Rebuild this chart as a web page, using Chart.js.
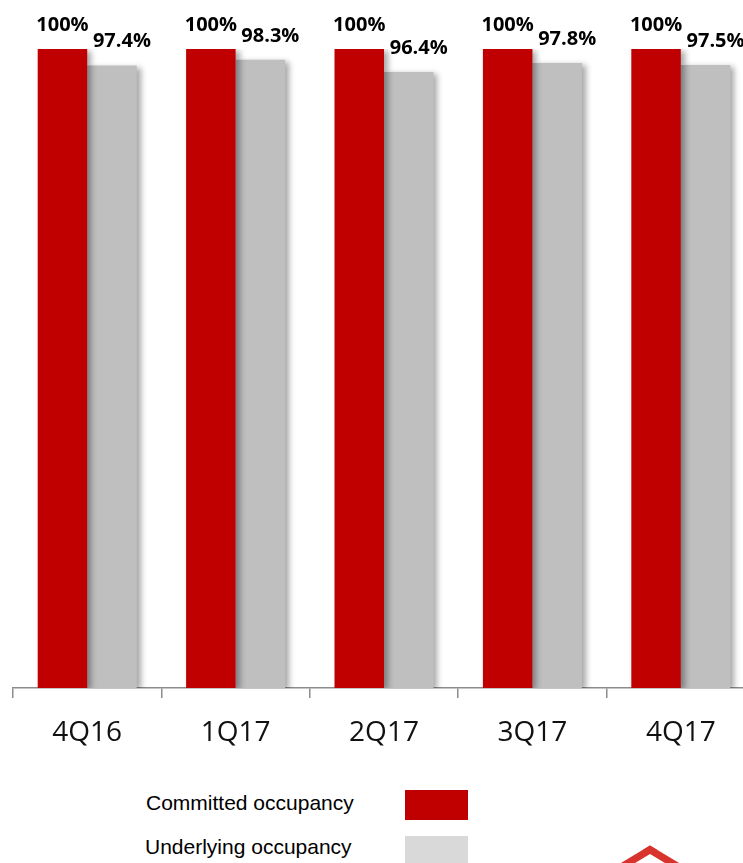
<!DOCTYPE html>
<html>
<head>
<meta charset="utf-8">
<script src="https://cdn.jsdelivr.net/npm/chart.js@4.4.1/dist/chart.umd.min.js"></script>
<style>
  html, body { margin: 0; padding: 0; background: #fff; width: 743px; height: 863px; overflow: hidden; position: relative; }
  #wrap { position: absolute; left: 0; top: 0; width: 756px; height: 770px; }
  .legend-text { position: absolute; font-family: 'Liberation Sans', Arial, sans-serif; font-size: 21px; color: #000; }
  .swatch { position: absolute; left: 405px; width: 63px; height: 30px; }
  #roof { position: absolute; left: 620px; top: 841px; width: 60px; height: 60px; border-top: 10px solid #d8332c; border-left: 10px solid #d8332c; box-sizing: border-box; transform: scaleY(0.6) rotate(45deg); }
</style>
</head>
<body>
<div id="wrap"><canvas id="chart"></canvas></div>
<div class="legend-text" style="left:146px; top:791px;">Committed occupancy</div>
<div class="swatch" style="top:790px; background:#c00000;"></div>
<div class="legend-text" style="left:145px; top:835px;">Underlying occupancy</div>
<div class="swatch" style="top:836px; background:#d9d9d9;"></div>
<div id="roof"></div>
<script>
const quarters = ['4Q16', '1Q17', '2Q17', '3Q17', '4Q17'];
const committedOccupancy = [100, 100, 100, 100, 100];
const underlyingOccupancy = [97.4, 98.3, 96.4, 97.8, 97.5];

const barShadow = {
  id: 'barShadow',
  beforeDatasetsDraw(chart) {
    const ctx = chart.ctx;
    ctx.save();
    ctx.shadowColor = 'rgba(0, 0, 0, 0.35)';
    ctx.shadowBlur = 6;
    ctx.shadowOffsetX = 4;
    ctx.shadowOffsetY = 2;
  },
  afterDatasetsDraw(chart) {
    chart.ctx.restore();
  },
};

const valueLabels = {
  id: 'valueLabels',
  afterDraw(chart) {
    const ctx = chart.ctx;
    ctx.save();
    ctx.font = 'bold 20px "Open Sans", sans-serif';
    ctx.fillStyle = '#000';
    ctx.textAlign = 'center';
    ctx.textBaseline = 'middle';
    chart.data.datasets.forEach((dataset, datasetIndex) => {
      const meta = chart.getDatasetMeta(datasetIndex);
      meta.data.forEach((bar, index) => {
        const value = dataset.data[index];
        const text = value === 100 ? '100%' : value.toFixed(1) + '%';
        const dx = datasetIndex === 0 ? 0 : 10;
        ctx.fillText(text, bar.x + dx, bar.y - 24);
      });
    });
    ctx.restore();
  },
};

new Chart(document.getElementById('chart'), {
  type: 'bar',
  data: {
    labels: quarters,
    datasets: [
      {
        label: 'Committed occupancy',
        data: committedOccupancy,
        backgroundColor: '#c00000',
      },
      {
        label: 'Underlying occupancy',
        data: underlyingOccupancy,
        backgroundColor: '#bfbfbf',
      },
    ],
  },
  options: {
    responsive: true,
    maintainAspectRatio: false,
    animation: false,
    layout: { padding: { top: 49, left: 13, right: 1, bottom: 0 } },
    datasets: {
      bar: { barPercentage: 1, categoryPercentage: 0.667 },
    },
    plugins: {
      legend: { display: false },
      tooltip: { enabled: false },
    },
    scales: {
      x: {
        grid: {
          offset: true,
          drawOnChartArea: false,
          drawTicks: true,
          tickLength: 10,
          color: '#8c8c8c',
          lineWidth: 1.5,
        },
        border: { display: true, color: '#8c8c8c', width: 1.5 },
        ticks: {
          color: '#111',
          padding: 18,
          font: { family: '"Open Sans", sans-serif', size: 28 },
        },
        afterFit: (scale) => {
          scale.height = 82;
        },
      },
      y: {
        display: false,
        min: 0,
        max: 100,
      },
    },
  },
  plugins: [barShadow, valueLabels],
});
</script>
</body>
</html>
